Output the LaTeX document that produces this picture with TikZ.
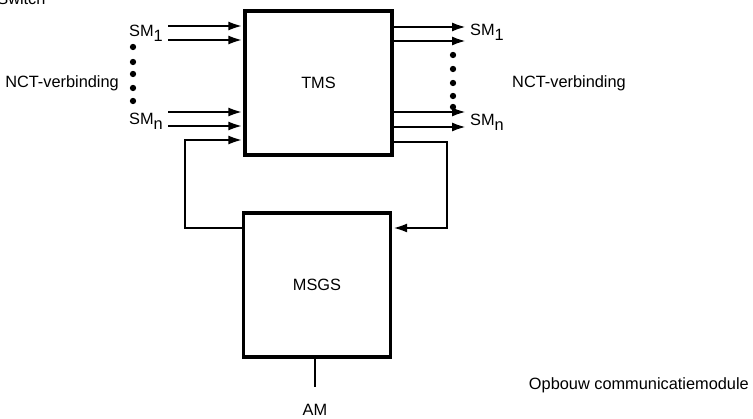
\documentclass[tikz,border=0pt]{standalone}
\usepackage{fontspec}
\setmainfont{Liberation Sans}
\usetikzlibrary{arrows.meta,calc}

\begin{document}
\begin{tikzpicture}[>={Latex[length=3mm,width=1.8mm]},
  font=\fontsize{9.3}{11}\selectfont,
  blok/.style={draw,line width=1.9pt,minimum width=2.94cm,minimum height=2.88cm,inner sep=0pt},
  lijn/.style={line width=1.7pt},
  stip/.style={fill,circle,inner sep=0pt,minimum size=3.6pt}]
\useasboundingbox (0,0) rectangle (15.06,-8.38);
\node[anchor=base west,inner sep=0pt] (sw) at (-0.06,-0.1) {Switch};
\node[blok] (tms) at (6.37,-1.66) {TMS};
\node[blok] (msgs) at (6.34,-5.7) {MSGS};
% ingangen en uitgangen
\foreach \i/\y in {1/-0.52,2/-0.8,3/-2.24,4/-2.52} {
  \coordinate (in\i) at (3.36,\y);
  \draw[lijn,->] (in\i) -- (in\i -| tms.west);
}
\foreach \i/\y in {1/-0.54,2/-0.82,3/-2.24,4/-2.54} {
  \coordinate (out\i) at (9.34,\y);
  \draw[lijn,->] (out\i -| tms.east) -- (out\i);
}
% terugkoppeling
\coordinate (in5) at (3.7,-2.8);
\coordinate (fbL) at (3.7,-4.56);
\coordinate (out5) at (8.94,-2.84);
\coordinate (fbR) at (8.94,-4.56);
\draw[lijn,->] (msgs.west |- fbL) -- (fbL) -- (in5) -- (in5 -| tms.west);
\draw[lijn,->] (out5 -| tms.east) -- (out5) -- (fbR) -- (fbR -| msgs.east);
\coordinate (am) at (6.3,-7.74);
\draw[lijn] (msgs.south -| am) -- (am);
\node (amlbl) at (6.3,-8.2) {AM};
% labels
\node[anchor=east] (sm1L) at (3.38,-0.66) {SM\raisebox{-0.55ex}{1}};
\node[anchor=east] (smnL) at (3.38,-2.42) {SM\raisebox{-0.55ex}{n}};
\node[anchor=west] (sm1R) at (9.28,-0.64) {SM\raisebox{-0.55ex}{1}};
\node[anchor=west] (smnR) at (9.28,-2.44) {SM\raisebox{-0.55ex}{n}};
\foreach \y in {0.94,1.24,1.48,1.76,2.02} \node[stip] at (2.66,-\y) {};
\foreach \y in {1.1,1.38,1.66,1.92,2.14} \node[stip] at (9.06,-\y) {};
\node[anchor=east] (nctL) at (2.5,-1.66) {NCT-verbinding};
\node[anchor=west] (nctR) at (10.12,-1.66) {NCT-verbinding};
\node[anchor=east] (titel) at (15.1,-7.7) {Opbouw communicatiemodule};
\end{tikzpicture}
\end{document}
